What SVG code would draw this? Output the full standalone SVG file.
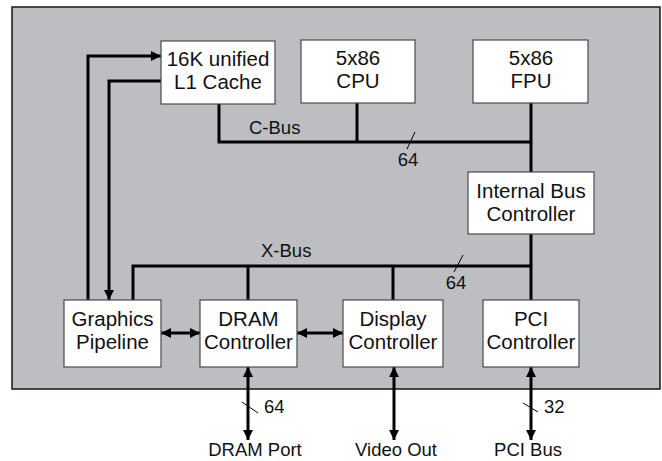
<svg xmlns="http://www.w3.org/2000/svg" width="662" height="461" viewBox="0 0 662 461">
<defs>
<style>
.box{fill:#ffffff;stroke:#4a4a4a;stroke-width:1.2}
.t{font-family:"Liberation Sans",Arial,sans-serif;font-size:20.5px;fill:#111;text-anchor:middle}
.l{font-family:"Liberation Sans",Arial,sans-serif;font-size:18.5px;fill:#111}
.w{fill:none;stroke:#000;stroke-width:3}
.s{fill:none;stroke:#000;stroke-width:1}
</style>
<marker id="ah" viewBox="0 0 10 10" refX="10" refY="5" markerWidth="10" markerHeight="10" markerUnits="userSpaceOnUse" orient="auto-start-reverse">
<path d="M0,0 L10,5 L0,10 z" fill="#000"/>
</marker>
</defs>
<rect x="12" y="7" width="648" height="382" fill="#bdbec2" stroke="#222" stroke-width="1.6"/>
<g id="connectors">
<path class="w" d="M219,104 V142 H531"/>
<path class="w" d="M357,103 V142"/>
<path class="w" d="M531,103 V172"/>
<path class="s" d="M407,149 L415,132"/>
<path class="w" d="M133,300 V266 H531"/>
<path class="w" d="M531,234 V300"/>
<path class="w" d="M248,266 V300"/>
<path class="w" d="M393,266 V300"/>
<path class="s" d="M454,272 L463,255"/>
<path class="w" d="M88,300 V56 H161" marker-end="url(#ah)"/>
<path class="w" d="M161,81 H109 V300" marker-end="url(#ah)"/>
<path class="w" d="M161,333 H200" marker-start="url(#ah)" marker-end="url(#ah)"/>
<path class="w" d="M297,333 H343" marker-start="url(#ah)" marker-end="url(#ah)"/>
<path class="w" d="M248,367 V440" marker-start="url(#ah)" marker-end="url(#ah)"/>
<path class="w" d="M394,367 V440" marker-start="url(#ah)" marker-end="url(#ah)"/>
<path class="w" d="M531,367 V440" marker-start="url(#ah)" marker-end="url(#ah)"/>
<path class="s" d="M242,402 L258,413"/>
<path class="s" d="M523,403 L538,412"/>
<text class="l" x="249" y="134">C-Bus</text>
<text class="l" x="408" y="166" text-anchor="middle">64</text>
<text class="l" x="261" y="257">X-Bus</text>
<text class="l" x="456" y="289" text-anchor="middle">64</text>
<text class="l" x="264" y="413">64</text>
<text class="l" x="544" y="413">32</text>
<text class="l" x="255" y="456" text-anchor="middle">DRAM Port</text>
<text class="l" x="396" y="456" text-anchor="middle">Video Out</text>
<text class="l" x="528" y="456" text-anchor="middle">PCI Bus</text>
</g>
<g id="cache"><rect class="box" x="161" y="41" width="114" height="63"/><text class="t" x="218" y="66">16K unified</text><text class="t" x="218" y="89">L1 Cache</text></g>
<g id="cpu"><rect class="box" x="301" y="40" width="114" height="63"/><text class="t" x="358" y="65">5x86</text><text class="t" x="358" y="88">CPU</text></g>
<g id="fpu"><rect class="box" x="473" y="40" width="115" height="63"/><text class="t" x="531" y="64.5">5x86</text><text class="t" x="531" y="87.5">FPU</text></g>
<g id="ibc"><rect class="box" x="468" y="172" width="126" height="62"/><text class="t" x="531" y="198">Internal Bus</text><text class="t" x="531" y="221">Controller</text></g>
<g id="graphics"><rect class="box" x="64" y="300" width="97" height="67"/><text class="t" x="112.5" y="325.5">Graphics</text><text class="t" x="112.5" y="348.5">Pipeline</text></g>
<g id="dram"><rect class="box" x="200" y="300" width="97" height="67"/><text class="t" x="248.5" y="325.5">DRAM</text><text class="t" x="248.5" y="348.5">Controller</text></g>
<g id="display"><rect class="box" x="343" y="300" width="100" height="67"/><text class="t" x="393" y="325.5">Display</text><text class="t" x="393" y="348.5">Controller</text></g>
<g id="pci"><rect class="box" x="483" y="300" width="96" height="67"/><text class="t" x="531" y="325.5">PCI</text><text class="t" x="531" y="348.5">Controller</text></g>
</svg>
